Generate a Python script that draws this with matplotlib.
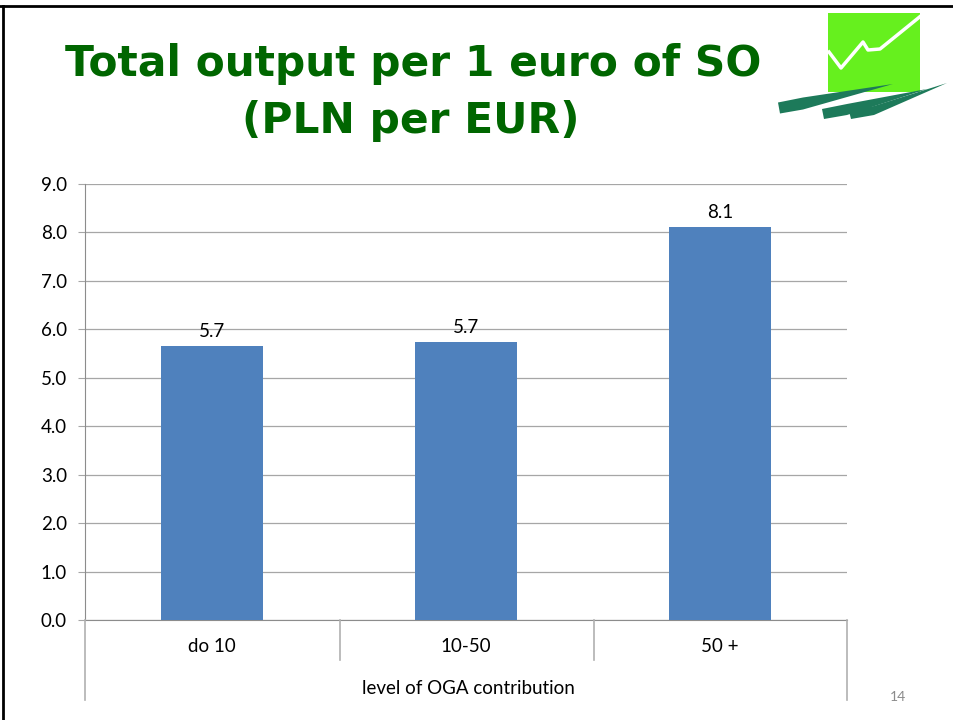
import numpy as np
import matplotlib.pyplot as plt
from matplotlib.patches import Rectangle, Polygon
from matplotlib.lines import Line2D

categories = ["do 10", "10-50", "50 +"]
values = [5.66, 5.74, 8.12]
value_labels = ["5.7", "5.7", "8.1"]
y_ticks = [0, 1, 2, 3, 4, 5, 6, 7, 8, 9]
x_title = "level of OGA contribution"
title_lines = ["Total output per 1 euro of SO", "(PLN per EUR)"]
page_no = "14"

plt.rcParams['font.family'] = ['Lato', 'DejaVu Sans']

fig = plt.figure(figsize=(9.54, 7.2), dpi=100)
W, H = 954, 720

def fx(px):
    return px / W

def fy(py):
    return 1 - py / H

ax = fig.add_axes([fx(85), fy(620), fx(847) - fx(85), fy(184) - fy(620)])

x = np.arange(len(categories))
ax.bar(x, values, width=0.4, color='#4f81bd', zorder=3)
for xi, v, lab in zip(x, values, value_labels):
    ax.text(xi, v + 0.12, lab, ha='center', va='bottom', fontsize=13.5, color='black')

ax.set_xlim(-0.5, 2.5)
ax.set_ylim(0, 9)
ax.set_yticks(y_ticks)
ax.set_yticklabels([f"{t:.1f}" for t in y_ticks], fontsize=13.5)
ax.yaxis.grid(True, color='#a6a6a6', linewidth=0.9, zorder=0)
ax.tick_params(axis='y', length=5, color='#a6a6a6', pad=8)
ax.set_xticks([])
for s in ['top', 'right']:
    ax.spines[s].set_visible(False)
ax.spines['left'].set_color('#8c8c8c')
ax.spines['bottom'].set_color('#8c8c8c')

# category boundaries below the axis
for px, bottom in [(85, 700), (340, 660), (594, 660), (847, 700)]:
    fig.add_artist(Line2D([fx(px), fx(px)], [fy(620), fy(bottom)], color='#b0b0b0', linewidth=1.2))
for xi, cat in zip(x, categories):
    xd = ax.transData.transform((xi, 0))[0] / W
    fig.text(xd, fy(647), cat, ha='center', va='center', fontsize=13.5)
fig.text(fx(468), fy(688), x_title, ha='center', va='center', fontsize=13.5)

# title
fig.text(fx(413), fy(64), title_lines[0], ha='center', va='center', fontsize=30.5,
         fontweight='bold', color='#006600', family='DejaVu Sans')
fig.text(fx(411), fy(121), title_lines[1], ha='center', va='center', fontsize=30.5,
         fontweight='bold', color='#006600', family='DejaVu Sans')

# page number
fig.text(fx(898), fy(697), page_no, ha='center', va='center', fontsize=10, color='#8c8c8c')

# slide border
fig.add_artist(Line2D([0, 1], [fy(6), fy(6)], color='black', linewidth=2))
fig.add_artist(Line2D([fx(3), fx(3)], [0, fy(6)], color='black', linewidth=2))

# logo
fig.add_artist(Rectangle((fx(828), fy(92)), fx(92), fy(13) - fy(92), color='#66f01e', linewidth=0))
fig.add_artist(Line2D([fx(829), fx(841), fx(863), fx(868), fx(880), fx(922)],
                      [fy(52), fy(68), fy(42), fy(50), fy(49), fy(15)],
                      color='white', linewidth=2.5))
for (x0, y0), (x1, y1), th in [((778, 108), (893, 84), 11), ((822, 114), (927, 89), 10), ((849, 115), (947, 83), 8)]:
    pts = [(x0, y0 - th / 2), (x0 + 25, y0 - th / 2 - 5), (x1, y1),
           (x0 + 25, y0 + th / 2 - 4), (x0 + 2, y0 + th / 2)]
    fig.add_artist(Polygon([(fx(px), fy(py)) for px, py in pts], closed=True,
                           color='#1d7a5a', linewidth=0))

fig.savefig('out.png', dpi=100)
